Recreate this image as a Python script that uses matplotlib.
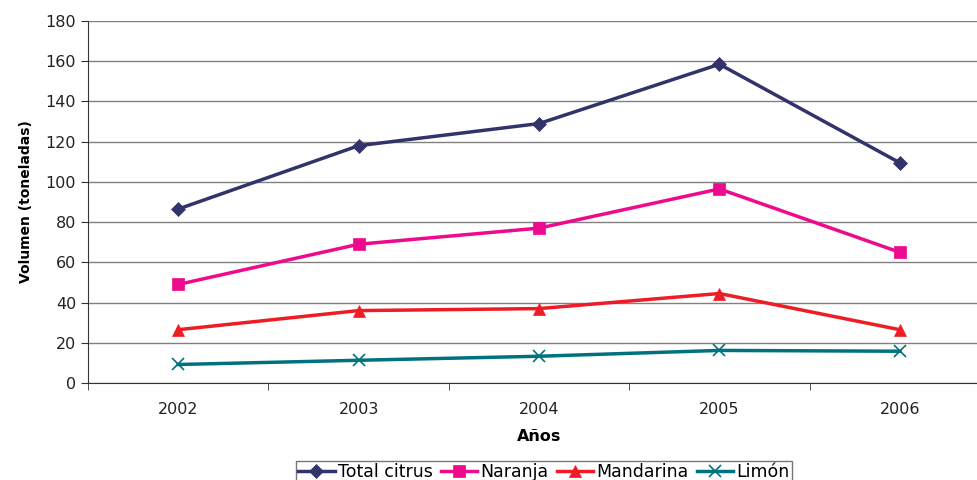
import matplotlib.pyplot as plt
from matplotlib.ticker import MultipleLocator, FixedLocator

plt.rcParams["font.family"] = ["DejaVu Sans"]

years = ["2002", "2003", "2004", "2005", "2006"]
total_citrus = [86.5, 118, 129, 158.5, 109.5]
naranja = [49, 69, 77, 96.5, 65]
mandarina = [26.5, 36, 37, 44.5, 26.5]
limon = [9.2, 11.3, 13.3, 16.2, 15.8]

series = [
    ("Total citrus", total_citrus, "#33336b", "D", 7),
    ("Naranja", naranja, "#ee0a8c", "s", 8),
    ("Mandarina", mandarina, "#ee1c25", "^", 9),
    ("Limón", limon, "#00727f", "x", 9),
]

fig = plt.figure(figsize=(9.77, 4.8), dpi=100)
# axes run past the right edge of the picture, like the original
ax = fig.add_axes([88 / 977, 1 - 383 / 480, 902 / 977, 362 / 480])

x = list(range(len(years)))
for name, vals, col, mk, ms in series:
    ax.plot(x, vals, color=col, lw=2.5, marker=mk, markersize=ms,
            markeredgewidth=1.2 if mk == "x" else 0.5, label=name)

ax.set_xlim(-0.5, len(years) - 0.5)
ax.set_ylim(0, 180)
ax.yaxis.set_major_locator(MultipleLocator(20))
ax.set_xticks(x)
ax.set_xticklabels(years)
ax.xaxis.set_minor_locator(FixedLocator([i + 0.5 for i in range(-1, len(years))]))
ax.tick_params(axis="x", which="major", length=0, pad=14, labelsize=11.5, colors="#222222")
ax.tick_params(axis="x", which="minor", length=5, direction="out", color="#333333")
ax.tick_params(axis="y", length=5, direction="out", labelsize=11.5, colors="#222222", color="#333333")

ax.grid(axis="y", color="#808080", lw=1)
ax.set_axisbelow(True)
for s in ["top", "right"]:
    ax.spines[s].set_visible(False)
ax.spines["left"].set_color("#333333")
ax.spines["bottom"].set_color("#333333")

ax.set_xlabel("Años", fontsize=11.5, fontweight="bold", labelpad=8)
ax.set_ylabel("Volumen (toneladas)", fontsize=10, fontweight="bold", labelpad=9)

# legend sits at the bottom edge, box runs off the picture as in the original
leg = fig.legend(loc="upper center", bbox_to_anchor=(544 / 977, 1 - 452 / 480),
                 ncol=4, frameon=True, fancybox=False, fontsize=12.5,
                 handlelength=2.1, handletextpad=0.2, columnspacing=0.45,
                 borderpad=0.15, edgecolor="#555555")
leg.get_frame().set_linewidth(1)

fig.savefig("out.png", dpi=100)
